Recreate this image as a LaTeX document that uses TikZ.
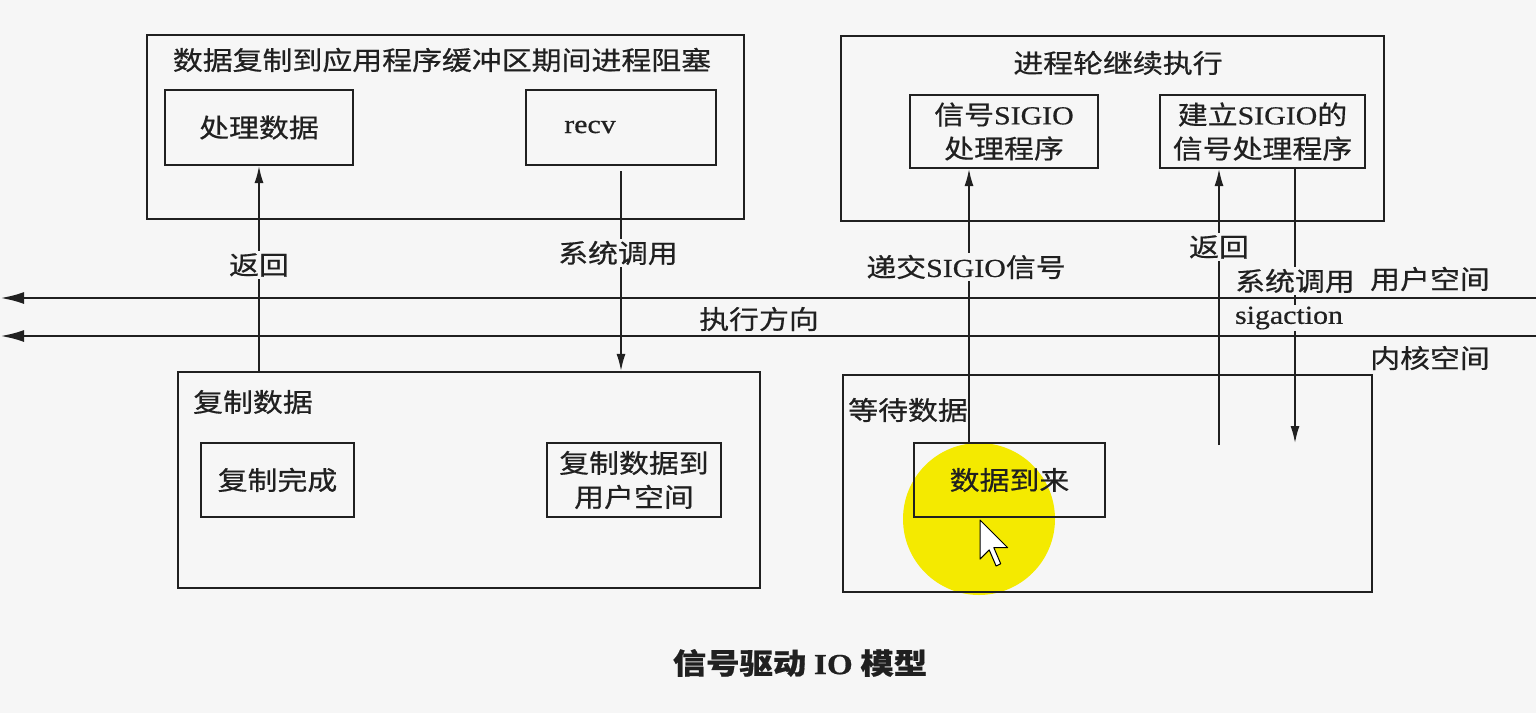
\documentclass[tikz,border=0pt]{standalone}
\usepackage{fontspec}
\setmainfont{Noto Sans CJK SC}[FakeStretch=1.15,FakeBold=0.6]
\newfontfamily\latinfont{Liberation Serif}[FakeStretch=1.15,FakeBold=0.6]
\newcommand\latn[1]{{\latinfont #1}}
\usetikzlibrary{arrows.meta}
\definecolor{paper}{RGB}{246,246,246}
\definecolor{ink}{RGB}{32,32,32}
\definecolor{spot}{RGB}{244,234,0}
\begin{document}
\begin{tikzpicture}[x=1pt,y=-1pt,
  every node/.style={font=\fontsize{26}{34}\selectfont, text=ink, inner sep=0pt},
  outerbox/.style={draw=ink, line width=2.2pt},
  innerbox/.style={draw=ink, line width=2pt, align=center},
  gaplabel/.style={fill=paper, inner sep=2pt},
  flowarrow/.style={draw=ink, line width=1.6pt, -{Latex[length=17pt,width=9pt]}},
  railarrow/.style={draw=ink, line width=2.8pt, -{Latex[length=24pt,width=12pt]}},
  pointer/.style={fill=white, draw=black, line width=1pt, line join=round},
]
\fill[paper] (0,0) rectangle (1536,713);
\useasboundingbox (0,0) rectangle (1536,713);

% highlight spot under the mouse pointer
\fill[spot] (979,519) circle[radius=76pt];

% user space, left: process blocked while data is copied
\node[outerbox, minimum width=597pt, minimum height=184pt] (userL) at (445.5,127) {};
\node (userLtitle) at (442,60) {数据复制到应用程序缓冲区期间进程阻塞};
\node[innerbox, minimum width=188pt, minimum height=75pt] (proc) at (259,127.5) {处理数据};
\node[innerbox, minimum width=190pt, minimum height=75pt] (recv) at (621,127.5) {};
\node (recvtext) at (590,127) {\latn{recv}};

% user space, right: process keeps running
\node[outerbox, minimum width=543pt, minimum height=185pt] (userR) at (1112.5,128.5) {};
\node (userRtitle) at (1118,63) {进程轮继续执行};
\node[innerbox, minimum width=188pt, minimum height=73pt] (sighandler) at (1004,131.5) {信号\latn{SIGIO}\\处理程序};
\node[innerbox, minimum width=205pt, minimum height=73pt] (setup) at (1262.5,131.5) {建立\latn{SIGIO}的\\信号处理程序};

% kernel space, left: copying data
\node[outerbox, minimum width=582pt, minimum height=216pt] (kernL) at (469,480) {};
\node[anchor=west] (kernLtitle) at (193,402) {复制数据};
\node[innerbox, minimum width=153pt, minimum height=74pt] (done) at (277.5,480) {复制完成};
\node[innerbox, minimum width=174pt, minimum height=74pt] (tocopy) at (634,480) {复制数据到\\用户空间};

% kernel space, right: waiting for data
\node[outerbox, minimum width=529pt, minimum height=217pt] (kernR) at (1107.5,483.5) {};
\node[anchor=west] (kernRtitle) at (848,410) {等待数据};
\node[innerbox, minimum width=191pt, minimum height=74pt] (arrive) at (1009.5,480) {数据到来};

% calls and returns across the boundary
\draw[flowarrow] (kernL.north -| proc.south) -- (proc.south);
\node[gaplabel] (ret1) at (259,265) {返回};
\draw[flowarrow] ([yshift=-5pt]recv.south) -- (recv.south |- kernL.north);
\node[gaplabel] (call1) at (618,253) {系统调用};

\coordinate (sigx) at (969,0);
\draw[flowarrow] (arrive.north -| sigx) -- (sighandler.south -| sigx);
\node[gaplabel] (deliver) at (966,267) {递交\latn{SIGIO}信号};

\coordinate (retfoot) at (1219,445);
\draw[flowarrow] (retfoot) -- (setup.south -| retfoot);
\node[gaplabel] (ret2) at (1219,247) {返回};

\coordinate (callfoot) at (1295,443);
\draw[flowarrow] (setup.south -| callfoot) -- (callfoot);
\node[gaplabel] (call2) at (1295,281) {系统调用};
\node[gaplabel] (sigaction) at (1289,318) {\latn{sigaction}};

% user/kernel boundary and direction of execution
\coordinate (uE) at (1536,298); \coordinate (uW) at (0,298);
\coordinate (kE) at (1536,336); \coordinate (kW) at (0,336);
\draw[railarrow] (uE) -- (uW);
\draw[railarrow] (kE) -- (kW);
\node (dir) at (759,319) {执行方向};
\node (userspace) at (1430,279) {用户空间};
\node (kernelspace) at (1430,358) {内核空间};

% caption
\node[font=\fontsize{29}{34}\selectfont\bfseries] (caption) at (800,663) {信号驱动 \latn{IO} 模型};

% mouse pointer
\begin{scope}[shift={(980,520)}, scale=2.3]
  \draw[pointer] (0,0) -- (0,17) -- (4,13) -- (7,20) -- (9,19) -- (6,12) -- (12,12) -- cycle;
\end{scope}
\end{tikzpicture}
\end{document}
